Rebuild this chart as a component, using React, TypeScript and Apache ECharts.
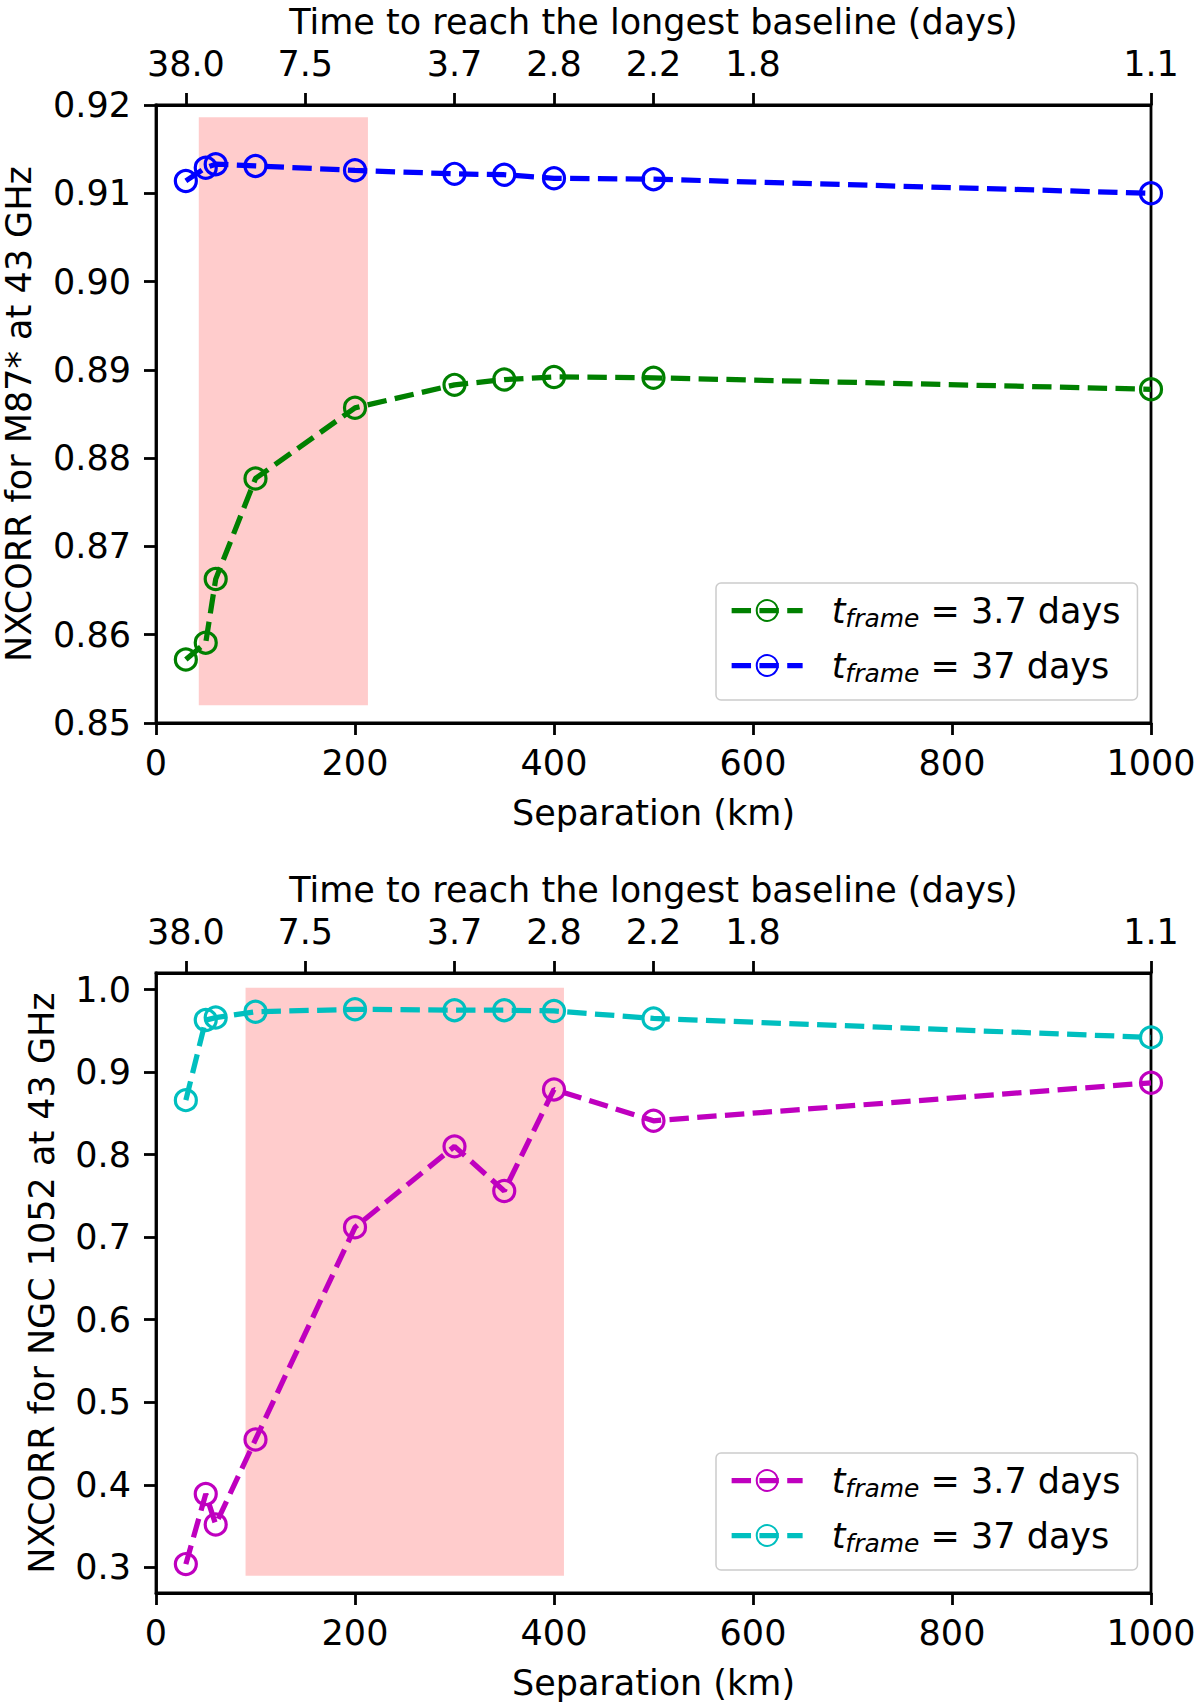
import { useEffect, useRef } from "react";
import * as echarts from "echarts";

// separations (km) at which NXCORR was evaluated
const separation = [30, 50, 60, 100, 200, 300, 350, 400, 500, 1000];

// M87* at 43 GHz
const m87Short = [0.8572, 0.8591, 0.8663, 0.8777, 0.8857, 0.8883, 0.8889, 0.8892, 0.8891, 0.8878];
const m87Long = [0.9114, 0.9129, 0.9133, 0.9131, 0.9126, 0.9122, 0.9121, 0.9117, 0.9116, 0.91];

// NGC 1052 at 43 GHz
const ngcShort = [0.304, 0.389, 0.352, 0.455, 0.712, 0.81, 0.756, 0.879, 0.841, 0.887];
const ngcLong = [0.866, 0.963, 0.966, 0.973, 0.976, 0.975, 0.975, 0.974, 0.965, 0.942];

// secondary (top) axis: time to reach the longest baseline
const dayTickSeparation = [30, 150, 300, 400, 500, 600, 1000];
const dayTickLabels = ["38.0", "7.5", "3.7", "2.8", "2.2", "1.8", "1.1"];

// y tick labels
const m87Ticks = [0.85, 0.86, 0.87, 0.88, 0.89, 0.9, 0.91, 0.92];
const ngcTicks = [0.3, 0.4, 0.5, 0.6, 0.7, 0.8, 0.9, 1.0];
const sepTicks = [0, 200, 400, 600, 800, 1000];

// shaded regions [x0, x1], [y0, y1]
const m87SpanX = [43, 213];
const m87SpanY = [0.852, 0.9186];
const ngcSpanX = [90, 410];
const ngcSpanY = [0.29, 1.002];

const FONT = "DejaVu Sans";
const FS = 35;
const LW = 5.25;
const DASH = [19.4, 8.4];

const pairs = (ys: number[]) => separation.map((x, i) => [x, ys[i]]);

const App = () => {
  const chartRef = useRef<HTMLDivElement>(null);

  useEffect(() => {
    if (!chartRef.current) return;
    const chart = echarts.init(chartRef.current, undefined, { renderer: "svg" });

    const axisLine = { show: true, lineStyle: { color: "#000", width: 2.8 } };
    const tick = (vals: number[]) => ({
      show: true,
      length: 12,
      customValues: vals,
      lineStyle: { color: "#000", width: 2.8 },
    });
    const labelStyle = { color: "#000", fontFamily: FONT, fontSize: FS };
    const nameStyle = { color: "#000", fontFamily: FONT, fontSize: FS };

    const bottomX = (gridIndex: number) => ({
      type: "value",
      gridIndex,
      position: "bottom",
      min: 0,
      max: 1000,
      name: "Separation (km)",
      nameLocation: "middle",
      nameGap: 72,
      nameTextStyle: nameStyle,
      axisLine,
      axisTick: tick(sepTicks),
      axisLabel: { ...labelStyle, margin: 22, customValues: sepTicks, formatter: (v: number) => String(v) },
      splitLine: { show: false },
    });

    const topX = (gridIndex: number) => ({
      type: "value",
      gridIndex,
      position: "top",
      min: 0,
      max: 1000,
      name: "Time to reach the longest baseline (days)",
      nameLocation: "middle",
      nameGap: 66,
      nameTextStyle: nameStyle,
      axisLine,
      axisTick: tick(dayTickSeparation),
      axisLabel: {
        ...labelStyle,
        margin: 24,
        customValues: dayTickSeparation,
        formatter: (v: number) => {
          const i = dayTickSeparation.indexOf(v);
          return i >= 0 ? dayTickLabels[i] : "";
        },
      },
      splitLine: { show: false },
    });

    const legendRich = {
      t: { fontFamily: FONT, fontSize: FS, fontStyle: "italic", color: "#000", padding: [0, 0, 0, 24] },
      s: { fontFamily: FONT, fontSize: 25, fontStyle: "italic", color: "#000", padding: [16, 0, 0, 0] },
      r: { fontFamily: FONT, fontSize: FS, color: "#000" },
    };
    const legendFmt = (name: string) =>
      name.indexOf("3.7") >= 0 ? "{t|t}{s|frame}{r| = 3.7 days}" : "{t|t}{s|frame}{r| = 37 days}";

    const legend = (top: number, data: string[]) => ({
      orient: "vertical",
      left: 716,
      top,
      align: "left",
      itemWidth: 71,
      itemHeight: 26,
      itemGap: 17,
      padding: [10, 17, 14, 13],
      backgroundColor: "#fff",
      borderColor: "#cccccc",
      borderWidth: 1.5,
      borderRadius: 5,
      lineStyle: { width: LW, type: DASH },
      data,
      formatter: legendFmt,
      textStyle: { rich: legendRich },
    });

    const lineSeries = (name: string, xi: number, yi: number, ys: number[], color: string, extra = {}) => ({
      type: "line",
      name,
      xAxisIndex: xi,
      yAxisIndex: yi,
      data: pairs(ys),
      symbol: "circle",
      symbolSize: 21,
      itemStyle: { color: "rgba(0,0,0,0)", borderColor: color, borderWidth: 3.2 },
      lineStyle: { color, width: LW, type: DASH },
      emphasis: { disabled: true },
      z: 3,
      ...extra,
    });

    const span = (xs: number[], ys: number[]) => ({
      silent: true,
      itemStyle: { color: "#ffcccc", opacity: 1 },
      data: [[{ coord: [xs[0], ys[0]] }, { coord: [xs[1], ys[1]] }]],
    });

    const gridBase = {
      left: 156,
      width: 995,
      show: true,
      borderColor: "#000",
      borderWidth: 2.8,
      backgroundColor: "transparent",
      outerBoundsMode: "none",
      containLabel: false,
    };

    chart.setOption({
      animation: false,
      backgroundColor: "#fff",
      grid: [
        { ...gridBase, top: 105, height: 618 },
        { ...gridBase, top: 973, height: 620 },
      ],
      xAxis: [bottomX(0), topX(0), bottomX(1), topX(1)],
      yAxis: [
        {
          type: "value",
          gridIndex: 0,
          min: 0.85,
          max: 0.92,
          name: "NXCORR for M87* at 43 GHz",
          nameLocation: "middle",
          nameRotate: 90,
          nameGap: 120,
          nameTextStyle: nameStyle,
          axisLine,
          axisTick: tick(m87Ticks),
          axisLabel: { ...labelStyle, margin: 25, customValues: m87Ticks, formatter: (v: number) => v.toFixed(2) },
          splitLine: { show: false },
        },
        {
          type: "value",
          gridIndex: 1,
          min: 0.269,
          max: 1.02,
          name: "NXCORR for NGC 1052 at 43 GHz",
          nameLocation: "middle",
          nameRotate: 90,
          nameGap: 97,
          nameTextStyle: nameStyle,
          axisLine,
          axisTick: tick(ngcTicks),
          axisLabel: { ...labelStyle, margin: 25, customValues: ngcTicks, formatter: (v: number) => v.toFixed(1) },
          splitLine: { show: false },
        },
      ],
      legend: [
        legend(583, ["M87* 3.7 days", "M87* 37 days"]),
        legend(1453, ["NGC 1052 3.7 days", "NGC 1052 37 days"]),
      ],
      series: [
        lineSeries("M87* 3.7 days", 0, 0, m87Short, "#008000", { markArea: span(m87SpanX, m87SpanY) }),
        lineSeries("M87* 37 days", 0, 0, m87Long, "#0000ff"),
        lineSeries("NGC 1052 3.7 days", 2, 1, ngcShort, "#bf00bf", { markArea: span(ngcSpanX, ngcSpanY) }),
        lineSeries("NGC 1052 37 days", 2, 1, ngcLong, "#00bfbf"),
      ],
    });

    return () => {
      chart.dispose();
    };
  }, []);

  return (
    <div
      ref={chartRef}
      style={{ position: "absolute", left: 0, top: 0, width: "1200px", height: "1705px" }}
    />
  );
};

export default App;
